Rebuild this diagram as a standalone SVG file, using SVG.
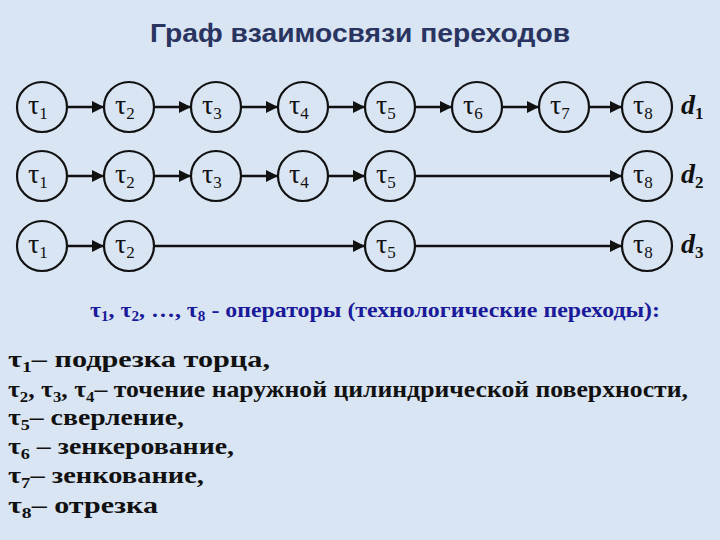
<svg xmlns="http://www.w3.org/2000/svg" width="720" height="540" viewBox="0 0 720 540">
<style>
.n circle{fill:none;stroke:#111;stroke-width:2.2}
.n text,.d{font-family:"Liberation Serif",serif;font-size:28px;fill:#111}
.sub{font-size:17px;font-style:normal}
.d{font-weight:bold;font-style:italic}
.c line{stroke:#111;stroke-width:2.5;marker-end:url(#a)}
.t{font-family:"Liberation Serif",serif;font-weight:bold;font-size:23px;fill:#111}
</style>
<defs><marker id="a" viewBox="0 0 10 10" refX="10" refY="5" markerWidth="5" markerHeight="5" orient="auto" markerUnits="strokeWidth"><path d="M0,0L10,5L0,10z" fill="#111"/></marker></defs>
<rect width="720" height="540" fill="#d9e5f3"/>
<text x="150" y="42" font-family="Liberation Sans,sans-serif" font-weight="bold" font-size="26" fill="#2a3460" textLength="420" lengthAdjust="spacingAndGlyphs">Граф взаимосвязи переходов</text>
<g class="c">
<line x1="67" y1="107" x2="104" y2="107"/><line x1="154" y1="107" x2="191" y2="107"/><line x1="241" y1="107" x2="278" y2="107"/><line x1="328" y1="107" x2="365" y2="107"/><line x1="415" y1="107" x2="452" y2="107"/><line x1="502" y1="107" x2="539" y2="107"/><line x1="589" y1="107" x2="622" y2="107"/>
<line x1="67" y1="176" x2="104" y2="176"/><line x1="154" y1="176" x2="191" y2="176"/><line x1="241" y1="176" x2="278" y2="176"/><line x1="328" y1="176" x2="365" y2="176"/><line x1="415" y1="176" x2="622" y2="176"/>
<line x1="67" y1="246" x2="104" y2="246"/><line x1="154" y1="246" x2="365" y2="246"/><line x1="415" y1="246" x2="622" y2="246"/>
</g>
<g id="r1">
<g class="n" id="n11"><circle cx="42" cy="107" r="25"/><text x="28" y="114">τ<tspan class="sub" dy="5">1</tspan></text></g>
<g class="n" id="n12"><circle cx="129" cy="107" r="25"/><text x="115" y="114">τ<tspan class="sub" dy="5">2</tspan></text></g>
<g class="n" id="n13"><circle cx="216" cy="107" r="25"/><text x="202" y="114">τ<tspan class="sub" dy="5">3</tspan></text></g>
<g class="n" id="n14"><circle cx="303" cy="107" r="25"/><text x="289" y="114">τ<tspan class="sub" dy="5">4</tspan></text></g>
<g class="n" id="n15"><circle cx="390" cy="107" r="25"/><text x="376" y="114">τ<tspan class="sub" dy="5">5</tspan></text></g>
<g class="n" id="n16"><circle cx="477" cy="107" r="25"/><text x="463" y="114">τ<tspan class="sub" dy="5">6</tspan></text></g>
<g class="n" id="n17"><circle cx="564" cy="107" r="25"/><text x="550" y="114">τ<tspan class="sub" dy="5">7</tspan></text></g>
<g class="n" id="n18"><circle cx="647" cy="107" r="25"/><text x="633" y="114">τ<tspan class="sub" dy="5">8</tspan></text></g>
<text class="d" x="681" y="114">d<tspan class="sub" dy="5">1</tspan></text>
</g>
<g id="r2">
<g class="n" id="n21"><circle cx="42" cy="176" r="25"/><text x="28" y="183">τ<tspan class="sub" dy="5">1</tspan></text></g>
<g class="n" id="n22"><circle cx="129" cy="176" r="25"/><text x="115" y="183">τ<tspan class="sub" dy="5">2</tspan></text></g>
<g class="n" id="n23"><circle cx="216" cy="176" r="25"/><text x="202" y="183">τ<tspan class="sub" dy="5">3</tspan></text></g>
<g class="n" id="n24"><circle cx="303" cy="176" r="25"/><text x="289" y="183">τ<tspan class="sub" dy="5">4</tspan></text></g>
<g class="n" id="n25"><circle cx="390" cy="176" r="25"/><text x="376" y="183">τ<tspan class="sub" dy="5">5</tspan></text></g>
<g class="n" id="n28"><circle cx="647" cy="176" r="25"/><text x="633" y="183">τ<tspan class="sub" dy="5">8</tspan></text></g>
<text class="d" x="681" y="183">d<tspan class="sub" dy="5">2</tspan></text>
</g>
<g id="r3">
<g class="n" id="n31"><circle cx="42" cy="246" r="25"/><text x="28" y="253">τ<tspan class="sub" dy="5">1</tspan></text></g>
<g class="n" id="n32"><circle cx="129" cy="246" r="25"/><text x="115" y="253">τ<tspan class="sub" dy="5">2</tspan></text></g>
<g class="n" id="n35"><circle cx="390" cy="246" r="25"/><text x="376" y="253">τ<tspan class="sub" dy="5">5</tspan></text></g>
<g class="n" id="n38"><circle cx="647" cy="246" r="25"/><text x="633" y="253">τ<tspan class="sub" dy="5">8</tspan></text></g>
<text class="d" x="681" y="253">d<tspan class="sub" dy="5">3</tspan></text>
</g>
<text x="90" y="317" font-family="Liberation Serif,serif" font-weight="bold" font-size="22" fill="#1a1a9a" textLength="570" lengthAdjust="spacingAndGlyphs">τ<tspan font-size="14" dy="4">1</tspan><tspan dy="-4">, τ</tspan><tspan font-size="14" dy="4">2</tspan><tspan dy="-4">, …,  τ</tspan><tspan font-size="14" dy="4">8</tspan><tspan dy="-4"> - операторы (технологические переходы):</tspan></text>
<g class="t">
<text x="8" y="367" textLength="262" lengthAdjust="spacingAndGlyphs">τ<tspan font-size="15" dy="5">1</tspan><tspan dy="-5">– подрезка торца,</tspan></text>
<text x="8" y="397" textLength="680" lengthAdjust="spacingAndGlyphs">τ<tspan font-size="15" dy="5">2</tspan><tspan dy="-5">, τ</tspan><tspan font-size="15" dy="5">3</tspan><tspan dy="-5">, τ</tspan><tspan font-size="15" dy="5">4</tspan><tspan dy="-5">– точение наружной цилиндрической поверхности,</tspan></text>
<text x="8" y="425" textLength="176" lengthAdjust="spacingAndGlyphs">τ<tspan font-size="15" dy="5">5</tspan><tspan dy="-5">– сверление,</tspan></text>
<text x="8" y="454" textLength="226" lengthAdjust="spacingAndGlyphs">τ<tspan font-size="15" dy="5">6</tspan><tspan dy="-5"> – зенкерование,</tspan></text>
<text x="8" y="483" textLength="196" lengthAdjust="spacingAndGlyphs">τ<tspan font-size="15" dy="5">7</tspan><tspan dy="-5">– зенкование,</tspan></text>
<text x="8" y="513" textLength="150" lengthAdjust="spacingAndGlyphs">τ<tspan font-size="15" dy="5">8</tspan><tspan dy="-5">– отрезка</tspan></text>
</g>
</svg>
